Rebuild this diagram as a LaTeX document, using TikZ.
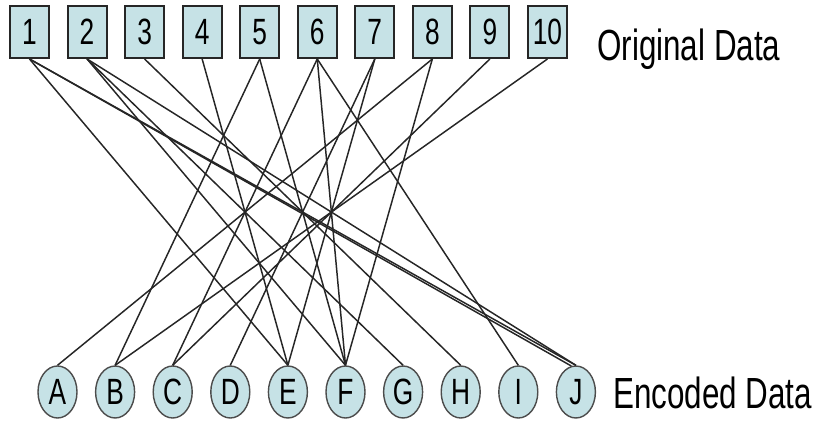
\documentclass[tikz,border=0pt]{standalone}
\usepackage{fontspec}
\setmainfont{Liberation Sans}
\newfontfamily\narrowsans[FakeStretch=0.72]{Liberation Sans}
\usetikzlibrary{shapes.geometric}

\definecolor{cellfill}{RGB}{198,226,230}

\begin{document}
\begin{tikzpicture}[
  x=0.25mm, y=0.25mm,
  datbox/.style  = {draw=black!85, line width=1.4pt, fill=cellfill,
                    minimum width=9.75mm, minimum height=13mm, inner sep=0pt,
                    font=\narrowsans\fontsize{26}{30}\selectfont},
  encnode/.style = {ellipse, draw=black!70, line width=1pt, fill=cellfill,
                    minimum width=9.75mm, minimum height=13mm, inner sep=0pt,
                    font=\narrowsans\fontsize{26}{30}\selectfont},
  link/.style    = {black!85, line width=1.05pt},
  rowlbl/.style  = {anchor=base west, inner sep=0pt,
                    font=\narrowsans\fontsize{31}{36}\selectfont},
]
\useasboundingbox (0,0) rectangle (818,421);

%% source blocks along the top
\foreach \i in {1,...,10}
  \node[datbox] (o\i) at ({29.5+57.55*(\i-1)},389) {\i};

%% encoded blocks along the bottom
\foreach \c [count=\k from 0] in {A,...,J}
  \node[encnode] (e\c) at ({57.5+57.6*\k},29) {\c};

\node[rowlbl] (orig) at (597,360) {Original Data};
\node[rowlbl] (enc)  at (613,13)  {Encoded Data};

%% source -> encoded links
\foreach \s/\t in {1/E, 1/J, 2/F, 2/G, 2/J, 3/H, 4/E, 5/B, 5/F, 6/C,
                   6/F, 6/I, 7/D, 7/E, 8/A, 8/F, 9/C, 10/B}
  \draw[link] (o\s.south) -- (e\t.north);
% 1 feeds J twice, drawn a hair apart
\draw[link] (o1.south) -- (eJ.100);

\end{tikzpicture}
\end{document}
